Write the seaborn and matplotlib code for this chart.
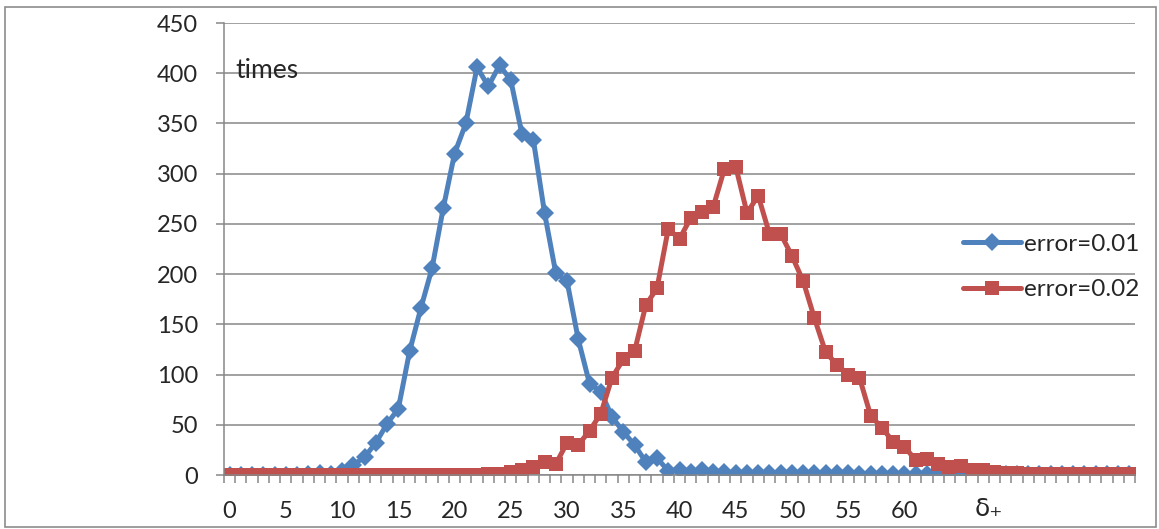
import numpy as np
import pandas as pd
import matplotlib.pyplot as plt
import matplotlib.patches as mpatches
import seaborn as sns

# categories 0..80 (delta+)
delta = list(range(81))

# error = 0.01
times_001 = [0, 0, 0, 0, 0, 0, 0, 1, 2, 1,
             4, 10, 18, 32, 51, 66, 123, 166, 206, 266,
             320, 350, 406, 387, 408, 393, 339, 334, 261, 201,
             193, 135, 91, 83, 58, 43, 30, 13, 17, 4,
             5, 3, 5, 3, 3, 2, 2, 2, 2, 2,
             2, 2, 2, 2, 2, 2, 1, 1, 1, 1,
             1, 1, 1, 1, 1, 1, 1, 1, 1, 1,
             1, 1, 1, 1, 1, 1, 1, 1, 1, 1, 1]

# error = 0.02
times_002 = [0, 0, 0, 0, 0, 0, 0, 0, 0, 0,
             0, 0, 0, 0, 0, 0, 0, 0, 0, 0,
             0, 0, 0, 1, 1, 3, 5, 8, 13, 11,
             32, 30, 44, 61, 97, 115, 123, 169, 186, 245,
             235, 256, 262, 267, 305, 307, 261, 278, 240, 240,
             218, 193, 156, 122, 110, 100, 97, 59, 47, 33,
             28, 15, 16, 11, 8, 9, 5, 5, 3, 2,
             2, 1, 1, 1, 1, 1, 1, 1, 1, 1, 1]

xtick_pos = list(range(0, 61, 5))
ytick_pos = list(range(0, 451, 50))

df = pd.DataFrame({'delta': delta * 2,
                   'times': times_001 + times_002,
                   'series': ['error=0.01'] * 81 + ['error=0.02'] * 81})

sns.set_style('white')
plt.rcParams['font.family'] = ['Lato', 'DejaVu Sans']
grid_c = '#878787'

fig = plt.figure(figsize=(11.59, 5.29), dpi=100)
ax = fig.add_axes([224 / 1159, 1 - 475 / 529, 911 / 1159, 452 / 529])

blue = '#4F81BD'
red = '#C0504D'
sns.lineplot(data=df[df['series'] == 'error=0.01'], x='delta', y='times',
             color=blue, marker='D', markersize=9, linewidth=3.6,
             markeredgewidth=0, label='error=0.01', ax=ax)
sns.lineplot(data=df[df['series'] == 'error=0.02'], x='delta', y='times',
             color=red, marker='s', markersize=9.5, linewidth=3.6,
             markeredgewidth=0, label='error=0.02', ax=ax)

ax.set_xlim(-0.5, 80.5)
ax.set_ylim(0, 450)
ax.set_xlabel('')
ax.set_ylabel('')

# y axis: gridlines every 50, small outward ticks
ax.set_yticks(ytick_pos)
ax.yaxis.grid(True, color=grid_c, linewidth=1.1)
ax.xaxis.grid(False)
ax.set_axisbelow(True)
for s in ['top', 'right']:
    ax.spines[s].set_visible(False)
for s in ['left', 'bottom']:
    ax.spines[s].set_color(grid_c)
    ax.spines[s].set_linewidth(1.1)
ax.tick_params(axis='y', which='major', left=True, length=6, width=1.1,
               color=grid_c, direction='out', pad=12.5, labelsize=17)

# x axis: labels every 5, ticks between every category
ax.set_xticks(xtick_pos)
ax.set_xticklabels([str(v) for v in xtick_pos])
ax.set_xticks(np.arange(-0.5, 81, 1), minor=True)
ax.tick_params(axis='x', which='major', length=0, pad=19, labelsize=17)
ax.tick_params(axis='x', which='minor', length=6, width=1.1, color=grid_c,
               direction='out', bottom=True)

ax.text(0.012, 0.895, 'times', transform=ax.transAxes, fontsize=19,
        va='center', ha='left')
ax.text(66.2, -0.075, 'δ₊', transform=ax.get_xaxis_transform(), fontsize=18,
        va='center', ha='left', family=['DejaVu Sans'])

leg = ax.legend(loc='center left', bbox_to_anchor=(0.80, 0.46), frameon=False,
                fontsize=17.5, handlelength=2.4, handletextpad=0.12,
                labelspacing=1.0, borderaxespad=0)

# chart border
fig.patches.append(mpatches.Rectangle((5 / 1159, 1 - 527 / 529), 1151 / 1159,
                                      520 / 529, transform=fig.transFigure,
                                      fill=False, edgecolor='#8c8c8c',
                                      linewidth=1.2))

fig.savefig('out.png', dpi=100)
